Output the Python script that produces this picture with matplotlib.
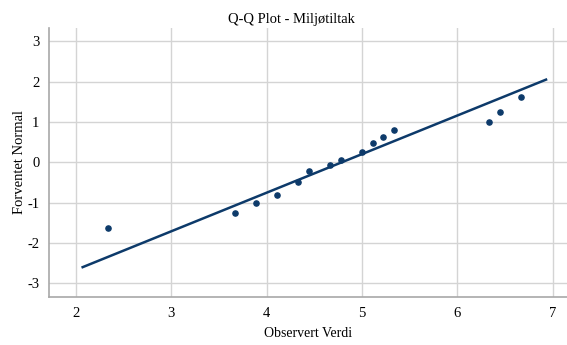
import matplotlib
matplotlib.use("Agg")
import matplotlib.pyplot as plt

# observed scores and expected normal quantiles
observed = [2.333, 3.667, 3.889, 4.111, 4.333, 4.444, 4.667, 4.778,
            5.000, 5.111, 5.222, 5.333, 6.333, 6.444, 6.667]
expected = [-1.63, -1.26, -1.01, -0.81, -0.48, -0.21, -0.07, 0.05,
            0.26, 0.47, 0.63, 0.80, 1.00, 1.25, 1.62]

# reference line end points
line_x = [2.07, 6.93]
line_y = [-2.60, 2.05]

xticks = [2, 3, 4, 5, 6, 7]
yticks = [-3, -2, -1, 0, 1, 2, 3]

navy = "#0d3a6a"
plt.rcParams["font.family"] = ["Liberation Serif", "DejaVu Serif"]
plt.rcParams["axes.unicode_minus"] = False

fig = plt.figure(figsize=(5.67, 3.45), dpi=100)
ax = fig.add_axes([49 / 567, 1 - 297 / 345, 1 - 49 / 567, (297 - 28) / 345])

ax.plot(line_x, line_y, color=navy, lw=1.8, zorder=3)
ax.scatter(observed, expected, s=14, color=navy, zorder=4)

ax.set_xlim(1.717, 7.15)
ax.set_ylim(-3.34, 3.33)
ax.set_xticks(xticks)
ax.set_yticks(yticks)
ax.grid(True, color="#d4d4d4", lw=1)
ax.set_axisbelow(True)
ax.tick_params(length=0, labelsize=10.5)
ax.tick_params(axis="x", pad=7)
ax.tick_params(axis="y", pad=7)

for s in ["top", "right"]:
    ax.spines[s].set_visible(False)
for s in ["left", "bottom"]:
    ax.spines[s].set_color("#a8a8a8")
    ax.spines[s].set_linewidth(1.2)

fig.text(291 / 567, 1 - 20 / 345, "Q-Q Plot - Miljøtiltak", fontsize=10.5,
         ha="center", va="center")
ax.set_xlabel("Observert Verdi", fontsize=10, labelpad=5)
ax.set_ylabel("Forventet Normal", fontsize=10.5, labelpad=1)

fig.savefig("out.png", dpi=100)
